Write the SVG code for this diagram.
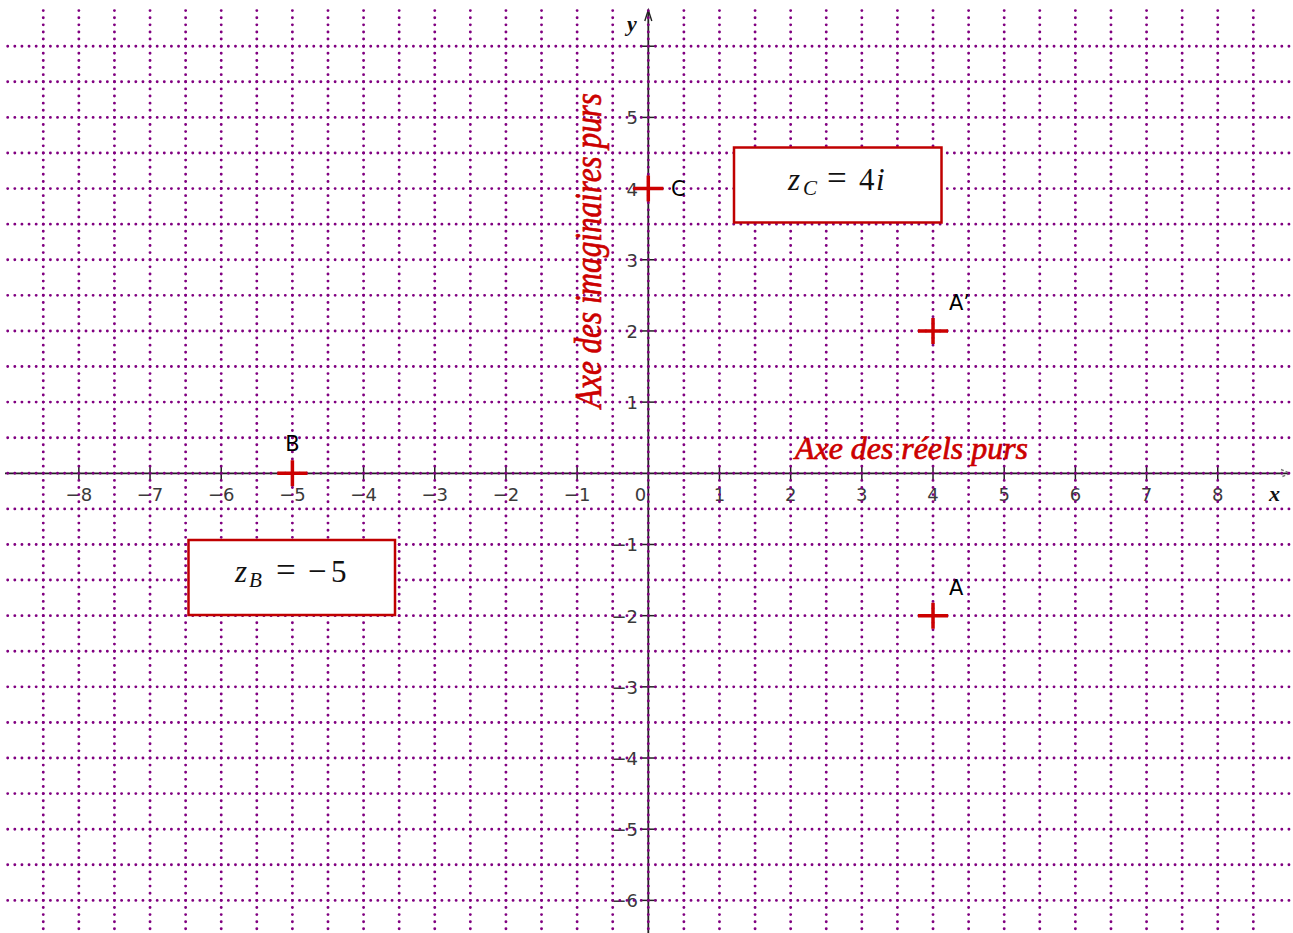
<svg xmlns="http://www.w3.org/2000/svg" width="1293" height="933" viewBox="0 0 1293 933">
<style>
.g{stroke:#800080;stroke-width:2.9;stroke-linecap:round;stroke-dasharray:0 7.118;fill:none}
.ax{stroke:#222;stroke-width:1.8;fill:none}
.tk{stroke:#222;stroke-width:1.5}
.tl{font-family:"DejaVu Sans",sans-serif;font-size:18px;fill:#3a3a3a}
.tx{text-anchor:middle}
.ty{text-anchor:end}
.pl{font-family:"DejaVu Sans",sans-serif;font-size:21px;fill:#000}
.cr{stroke:#cc0000;stroke-width:3.5}
.box{fill:#fff;stroke:#c00000;stroke-width:2.5}
.fm{font-family:"Liberation Serif",serif;font-size:31px;fill:#111}
.it{font-style:italic}
.sub{font-size:21px;font-style:italic}
.red{font-family:"Liberation Serif",serif;font-style:italic;fill:#cc0000;stroke:#cc0000;stroke-width:0.7}
.axn{font-family:"Liberation Serif",serif;font-style:italic;font-weight:bold;font-size:22px;fill:#111}
</style>
<rect width="1293" height="933" fill="#fff"/>
<g id="axes">
<line class="ax" x1="5" y1="473.3" x2="1288" y2="473.3"/>
<line class="ax" x1="648.3" y1="933" x2="648.3" y2="11"/>
<path d="M644.8,21 L648.3,10 L651.8,21" fill="none" stroke="#222" stroke-width="1.4"/>
<path d="M1281,469.5 L1290,473.3 L1281,477.1" fill="none" stroke="#777" stroke-width="1.4" stroke-dasharray="3 2"/>
<g id="xticks">
<line class="tk" x1="78.86" y1="466" x2="78.86" y2="481"/>
<line class="tk" x1="150.04" y1="466" x2="150.04" y2="481"/>
<line class="tk" x1="221.22" y1="466" x2="221.22" y2="481"/>
<line class="tk" x1="292.4" y1="466" x2="292.4" y2="481"/>
<line class="tk" x1="363.58" y1="466" x2="363.58" y2="481"/>
<line class="tk" x1="434.76" y1="466" x2="434.76" y2="481"/>
<line class="tk" x1="505.94" y1="466" x2="505.94" y2="481"/>
<line class="tk" x1="577.12" y1="466" x2="577.12" y2="481"/>
<line class="tk" x1="719.48" y1="466" x2="719.48" y2="481"/>
<line class="tk" x1="790.66" y1="466" x2="790.66" y2="481"/>
<line class="tk" x1="861.84" y1="466" x2="861.84" y2="481"/>
<line class="tk" x1="933.02" y1="466" x2="933.02" y2="481"/>
<line class="tk" x1="1004.2" y1="466" x2="1004.2" y2="481"/>
<line class="tk" x1="1075.38" y1="466" x2="1075.38" y2="481"/>
<line class="tk" x1="1146.56" y1="466" x2="1146.56" y2="481"/>
<line class="tk" x1="1217.74" y1="466" x2="1217.74" y2="481"/>
</g>
<g id="yticks">
<line class="tk" x1="640.5" y1="46.22" x2="656.5" y2="46.22"/>
<line class="tk" x1="640.5" y1="117.4" x2="656.5" y2="117.4"/>
<line class="tk" x1="640.5" y1="188.58" x2="656.5" y2="188.58"/>
<line class="tk" x1="640.5" y1="259.76" x2="656.5" y2="259.76"/>
<line class="tk" x1="640.5" y1="330.94" x2="656.5" y2="330.94"/>
<line class="tk" x1="640.5" y1="402.12" x2="656.5" y2="402.12"/>
<line class="tk" x1="640.5" y1="544.48" x2="656.5" y2="544.48"/>
<line class="tk" x1="640.5" y1="615.66" x2="656.5" y2="615.66"/>
<line class="tk" x1="640.5" y1="686.84" x2="656.5" y2="686.84"/>
<line class="tk" x1="640.5" y1="758.02" x2="656.5" y2="758.02"/>
<line class="tk" x1="640.5" y1="829.2" x2="656.5" y2="829.2"/>
<line class="tk" x1="640.5" y1="900.38" x2="656.5" y2="900.38"/>
</g>
<g id="xlabels" class="tl tx">
<text x="78.86" y="501">−8</text>
<text x="150.04" y="501">−7</text>
<text x="221.22" y="501">−6</text>
<text x="292.4" y="501">−5</text>
<text x="363.58" y="501">−4</text>
<text x="434.76" y="501">−3</text>
<text x="505.94" y="501">−2</text>
<text x="577.12" y="501">−1</text>
<text x="640.5" y="501">0</text>
<text x="719.48" y="501">1</text>
<text x="790.66" y="501">2</text>
<text x="861.84" y="501">3</text>
<text x="933.02" y="501">4</text>
<text x="1004.2" y="501">5</text>
<text x="1075.38" y="501">6</text>
<text x="1146.56" y="501">7</text>
<text x="1217.74" y="501">8</text>
</g>
<g id="ylabels" class="tl ty">
<text x="638" y="124.4">5</text>
<text x="638" y="195.58">4</text>
<text x="638" y="266.76">3</text>
<text x="638" y="337.94">2</text>
<text x="638" y="409.12">1</text>
<text x="638" y="551.48">−1</text>
<text x="638" y="622.66">−2</text>
<text x="638" y="693.84">−3</text>
<text x="638" y="765.02">−4</text>
<text x="638" y="836.2">−5</text>
<text x="638" y="907.38">−6</text>
</g>
<text class="axn" x="627" y="31">y</text>
<text class="axn" x="1269" y="501">x</text>
</g>
<g id="grid">
<g id="hgrid">
<line class="g" x1="7.7" y1="46.22" x2="1289" y2="46.22"/>
<line class="g" x1="7.7" y1="81.81" x2="1289" y2="81.81"/>
<line class="g" x1="7.7" y1="117.4" x2="1289" y2="117.4"/>
<line class="g" x1="7.7" y1="152.99" x2="1289" y2="152.99"/>
<line class="g" x1="7.7" y1="188.58" x2="1289" y2="188.58"/>
<line class="g" x1="7.7" y1="224.17" x2="1289" y2="224.17"/>
<line class="g" x1="7.7" y1="259.76" x2="1289" y2="259.76"/>
<line class="g" x1="7.7" y1="295.35" x2="1289" y2="295.35"/>
<line class="g" x1="7.7" y1="330.94" x2="1289" y2="330.94"/>
<line class="g" x1="7.7" y1="366.53" x2="1289" y2="366.53"/>
<line class="g" x1="7.7" y1="402.12" x2="1289" y2="402.12"/>
<line class="g" x1="7.7" y1="437.71" x2="1289" y2="437.71"/>
<line class="g" x1="7.7" y1="473.3" x2="1289" y2="473.3"/>
<line class="g" x1="7.7" y1="508.89" x2="1289" y2="508.89"/>
<line class="g" x1="7.7" y1="544.48" x2="1289" y2="544.48"/>
<line class="g" x1="7.7" y1="580.07" x2="1289" y2="580.07"/>
<line class="g" x1="7.7" y1="615.66" x2="1289" y2="615.66"/>
<line class="g" x1="7.7" y1="651.25" x2="1289" y2="651.25"/>
<line class="g" x1="7.7" y1="686.84" x2="1289" y2="686.84"/>
<line class="g" x1="7.7" y1="722.43" x2="1289" y2="722.43"/>
<line class="g" x1="7.7" y1="758.02" x2="1289" y2="758.02"/>
<line class="g" x1="7.7" y1="793.61" x2="1289" y2="793.61"/>
<line class="g" x1="7.7" y1="829.2" x2="1289" y2="829.2"/>
<line class="g" x1="7.7" y1="864.79" x2="1289" y2="864.79"/>
<line class="g" x1="7.7" y1="900.38" x2="1289" y2="900.38"/>
</g>
<g id="vgrid">
<line class="g" x1="43.27" y1="10.6" x2="43.27" y2="936"/>
<line class="g" x1="78.86" y1="10.6" x2="78.86" y2="936"/>
<line class="g" x1="114.45" y1="10.6" x2="114.45" y2="936"/>
<line class="g" x1="150.04" y1="10.6" x2="150.04" y2="936"/>
<line class="g" x1="185.63" y1="10.6" x2="185.63" y2="936"/>
<line class="g" x1="221.22" y1="10.6" x2="221.22" y2="936"/>
<line class="g" x1="256.81" y1="10.6" x2="256.81" y2="936"/>
<line class="g" x1="292.4" y1="10.6" x2="292.4" y2="936"/>
<line class="g" x1="327.99" y1="10.6" x2="327.99" y2="936"/>
<line class="g" x1="363.58" y1="10.6" x2="363.58" y2="936"/>
<line class="g" x1="399.17" y1="10.6" x2="399.17" y2="936"/>
<line class="g" x1="434.76" y1="10.6" x2="434.76" y2="936"/>
<line class="g" x1="470.35" y1="10.6" x2="470.35" y2="936"/>
<line class="g" x1="505.94" y1="10.6" x2="505.94" y2="936"/>
<line class="g" x1="541.53" y1="10.6" x2="541.53" y2="936"/>
<line class="g" x1="577.12" y1="10.6" x2="577.12" y2="936"/>
<line class="g" x1="612.71" y1="10.6" x2="612.71" y2="936"/>
<line class="g" x1="648.3" y1="10.6" x2="648.3" y2="936"/>
<line class="g" x1="683.89" y1="10.6" x2="683.89" y2="936"/>
<line class="g" x1="719.48" y1="10.6" x2="719.48" y2="936"/>
<line class="g" x1="755.07" y1="10.6" x2="755.07" y2="936"/>
<line class="g" x1="790.66" y1="10.6" x2="790.66" y2="936"/>
<line class="g" x1="826.25" y1="10.6" x2="826.25" y2="936"/>
<line class="g" x1="861.84" y1="10.6" x2="861.84" y2="936"/>
<line class="g" x1="897.43" y1="10.6" x2="897.43" y2="936"/>
<line class="g" x1="933.02" y1="10.6" x2="933.02" y2="936"/>
<line class="g" x1="968.61" y1="10.6" x2="968.61" y2="936"/>
<line class="g" x1="1004.2" y1="10.6" x2="1004.2" y2="936"/>
<line class="g" x1="1039.79" y1="10.6" x2="1039.79" y2="936"/>
<line class="g" x1="1075.38" y1="10.6" x2="1075.38" y2="936"/>
<line class="g" x1="1110.97" y1="10.6" x2="1110.97" y2="936"/>
<line class="g" x1="1146.56" y1="10.6" x2="1146.56" y2="936"/>
<line class="g" x1="1182.15" y1="10.6" x2="1182.15" y2="936"/>
<line class="g" x1="1217.74" y1="10.6" x2="1217.74" y2="936"/>
<line class="g" x1="1253.33" y1="10.6" x2="1253.33" y2="936"/>
</g>
</g>
<g id="axis-titles">
<text class="red" x="795" y="459" font-size="31" textLength="233" lengthAdjust="spacingAndGlyphs">Axe des réels purs</text>
<text class="red" transform="translate(601,408) rotate(-90)" font-size="38" textLength="315" lengthAdjust="spacingAndGlyphs">Axe des imaginaires purs</text>
</g>
<g id="boxC">
<rect class="box" x="734" y="147.5" width="207.5" height="75"/>
<text class="fm"><tspan class="it" x="788" y="190">z</tspan><tspan class="sub" x="803" y="195">C</tspan><tspan x="827" y="190" font-size="35">=</tspan><tspan x="859" y="190">4</tspan><tspan class="it" x="876" y="190">i</tspan></text>
</g>
<g id="boxB">
<rect class="box" x="188.5" y="540" width="206.5" height="75"/>
<text class="fm"><tspan class="it" x="235" y="582">z</tspan><tspan class="sub" x="249" y="587">B</tspan><tspan x="276" y="582" font-size="35">=</tspan><tspan x="308" y="582" font-size="33">−</tspan><tspan x="331" y="582">5</tspan></text>
</g>
<g id="pointC">
<path class="cr" d="M633.3,188.58 H663.3 M648.3,175.6 V201.6"/>
<text class="pl" x="671" y="196">C</text>
</g>
<g id="pointAprime">
<path class="cr" d="M918,330.94 H948 M933.02,318 V344"/>
<text class="pl" x="949" y="310">A’</text>
</g>
<g id="pointA">
<path class="cr" d="M918,615.66 H948 M933.02,602.7 V628.7"/>
<text class="pl" x="949" y="595">A</text>
</g>
<g id="pointB">
<path class="cr" d="M277.4,473.3 H307.4 M292.4,460.3 V486.3"/>
<text class="pl" x="292.4" y="451" text-anchor="middle">B</text>
</g>
</svg>
